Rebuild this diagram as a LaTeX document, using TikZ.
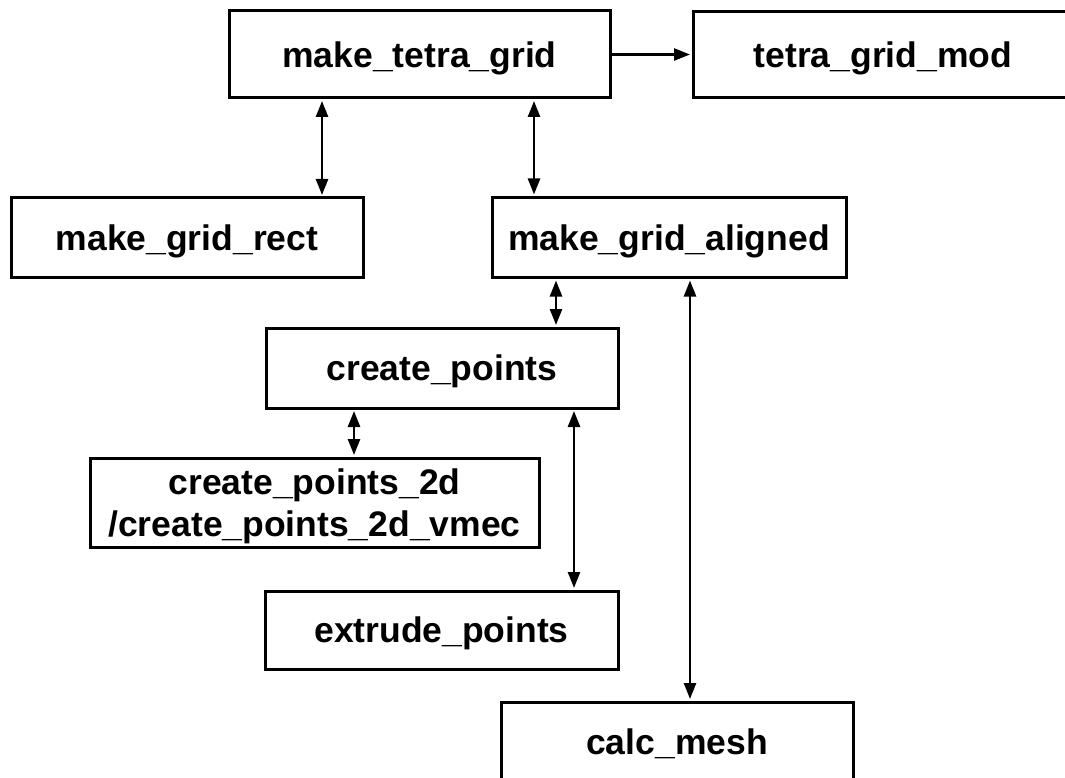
\documentclass[tikz,border=0pt]{standalone}
\usepackage{fontspec}
\setmainfont{Liberation Sans}
\usetikzlibrary{arrows.meta}
\begin{document}
\begin{tikzpicture}[x=1pt,y=-1pt,
  box/.style={draw=black, line width=3pt, fill=white, inner sep=0pt, text depth=0pt,
    font=\fontsize{35.5}{42}\selectfont\bfseries, align=center},
  tip/.tip={Triangle[length=16pt,width=12pt]},
  dbl/.style={line width=2.5pt, {tip}-{tip}, shorten >=1.5pt, shorten <=1.5pt},
  sgl/.style={line width=2.5pt, -{tip}, shorten >=1.5pt}]
\useasboundingbox (0,0) rectangle (1065,778);
\clip (0,0) rectangle (1065,778);
\fill[white] (0,0) rectangle (1065,778);
\node[box, minimum width=381pt, minimum height=87pt] (mtg) at (419.5,54.5) {make\_tetra\_grid};
\node[box, minimum width=380pt, minimum height=86pt] (tgm) at (883,55) {tetra\_grid\_mod};
\node[box, minimum width=352pt, minimum height=79pt] (mgr) at (187,237.5) {make\_grid\_rect};
\node[box, minimum width=354pt, minimum height=80pt] (mga) at (669,237.5) {make\_grid\_aligned};
\node[box, minimum width=352pt, minimum height=80pt] (cp) at (442,368) {create\_points};
\node[box, minimum width=449pt, minimum height=89pt] (cpd) at (314.5,502.5) {create\_points\_2d\\/create\_points\_2d\_vmec};
\node[box, minimum width=353pt, minimum height=78pt] (ep) at (441.5,630) {extrude\_points};
\node[box, minimum width=352pt, minimum height=80pt] (cm) at (677,742) {calc\_mesh};
\coordinate (a1) at (322,0);
\coordinate (a2) at (534,0);
\coordinate (a3) at (556,0);
\coordinate (a4) at (354,0);
\coordinate (a5) at (574,0);
\coordinate (a6) at (690,0);
\draw[sgl] (mtg.east) -- (mtg.east -| tgm.west);
\draw[dbl] (mtg.south -| a1) -- (mgr.north -| a1);
\draw[dbl] (mtg.south -| a2) -- (mga.north -| a2);
\draw[dbl] (mga.south -| a3) -- (cp.north -| a3);
\draw[dbl] (cp.south -| a4) -- (cpd.north -| a4);
\draw[dbl] (cp.south -| a5) -- (ep.north -| a5);
\draw[dbl] (mga.south -| a6) -- (cm.north -| a6);
\end{tikzpicture}
\end{document}
